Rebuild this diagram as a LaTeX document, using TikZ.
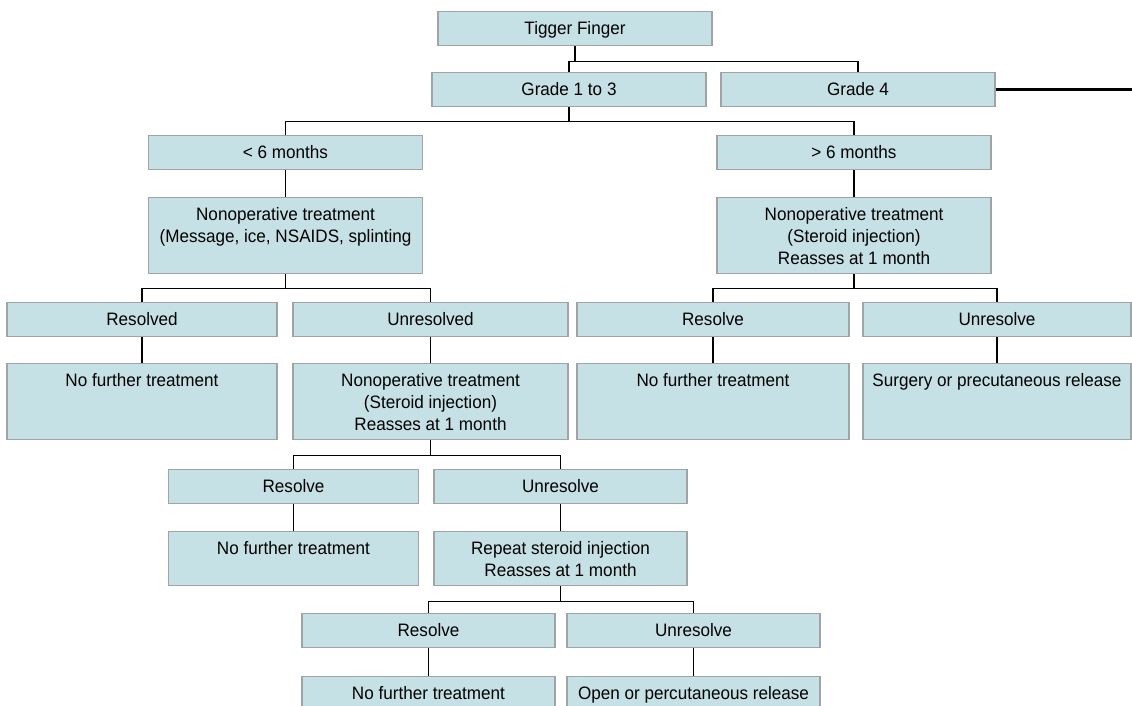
\documentclass[tikz,border=0pt]{standalone}
\usepackage{fontspec}
\setmainfont{Liberation Sans}[FakeStretch=0.95]
\definecolor{cellblue}{RGB}{197,225,229}
\definecolor{edgegray}{RGB}{160,164,165}
\newcommand{\cellrows}[1]{\begin{tabular}[t]{@{}c@{}}#1\end{tabular}}

\begin{document}
\begin{tikzpicture}[x=1pt, y=-1pt,
	box/.style={draw=edgegray, fill=cellblue, line width=1.2pt, inner sep=0pt, anchor=north,
		minimum width=#1, text height=22.5pt, text depth=11.5pt, font=\fontsize{18}{22}\selectfont},
	box/.default=274pt,
	tallbox/.style={text depth=53.5pt},
	midbox/.style={text depth=31.5pt},
	link/.style={line width=1.1pt}]
\useasboundingbox (0,0) rectangle (1132,706);
\clip (0,0) rectangle (1132,706);

% top
\node[box] (tf) at (575,11) {Tigger Finger};
\node[box] (g13) at (569,72) {Grade 1 to 3};
\node[box] (g4) at (858,72) {Grade 4};
\coordinate (rim) at (g4.east -| 1140,0);

\node[box] (lt6) at (285.5,135) {< 6 months};
\node[box] (gt6) at (854,135) {> 6 months};
\node[box, tallbox] (nopL) at (285.5,197) {\cellrows{Nonoperative treatment\\(Message, ice, NSAIDS, splinting}};
\node[box, tallbox] (nopR) at (854,197) {\cellrows{Nonoperative treatment\\(Steroid injection)\\Reasses at 1 month}};

% third level
\node[box=270pt] (resL) at (142,302) {Resolved};
\node[box=275pt] (unresL) at (430.5,302) {Unresolved};
\node[box=272pt] (resR) at (713,302) {Resolve};
\node[box=268pt] (unresR) at (997,302) {Unresolve};

\node[box=270pt, tallbox] (nfL) at (142,363) {No further treatment};
\node[box=275pt, tallbox] (nopS) at (430.5,363) {\cellrows{Nonoperative treatment\\(Steroid injection)\\Reasses at 1 month}};
\node[box=272pt, tallbox] (nfR) at (713,363) {No further treatment};
\node[box=268pt, tallbox] (surg) at (997,363) {Surgery or precutaneous release};

% after steroid injection
\node[box=250pt] (res2) at (293.5,469) {Resolve};
\node[box=253pt] (unres2) at (560.5,469) {Unresolve};
\node[box=250pt, midbox] (nf2) at (293.5,531) {No further treatment};
\node[box=253pt, midbox] (rep) at (560.5,531) {\cellrows{Repeat steroid injection\\Reasses at 1 month}};

\node[box=253pt] (res3) at (428.5,613) {Resolve};
\node[box=253pt] (unres3) at (693.5,613) {Unresolve};
\node[box=253pt, midbox] (nf3) at (428.5,676) {No further treatment};
\node[box=253pt, midbox] (open) at (693.5,676) {Open or percutaneous release};

% connectors
\draw[link] (tf.south) -- ++(0,15) -| (g13.north);
\draw[link] (tf.south) -- ++(0,15) -| (g4.north);
\draw[line width=3pt] (g4.east) -- (rim);
\draw[link] (g13.south) -- ++(0,14) -| (lt6.north);
\draw[link] (g13.south) -- ++(0,14) -| (gt6.north);
\draw[link] (lt6) -- (nopL);
\draw[link] (gt6) -- (nopR);

\draw[link] (nopL.south) -- ++(0,14) -| (resL.north);
\draw[link] (nopL.south) -- ++(0,14) -| (unresL.north);
\draw[link] (nopR.south) -- ++(0,14) -| (resR.north);
\draw[link] (nopR.south) -- ++(0,14) -| (unresR.north);
\draw[link] (resL) -- (nfL);
\draw[link] (unresL) -- (nopS);
\draw[link] (resR) -- (nfR);
\draw[link] (unresR) -- (surg);

\draw[link] (nopS.south) -- ++(0,15) -| (res2.north);
\draw[link] (nopS.south) -- ++(0,15) -| (unres2.north);
\draw[link] (res2) -- (nf2);
\draw[link] (unres2) -- (rep);

\draw[link] (rep.south) -- ++(0,15) -| (res3.north);
\draw[link] (rep.south) -- ++(0,15) -| (unres3.north);
\draw[link] (res3) -- (nf3);
\draw[link] (unres3) -- (open);

\end{tikzpicture}
\end{document}
